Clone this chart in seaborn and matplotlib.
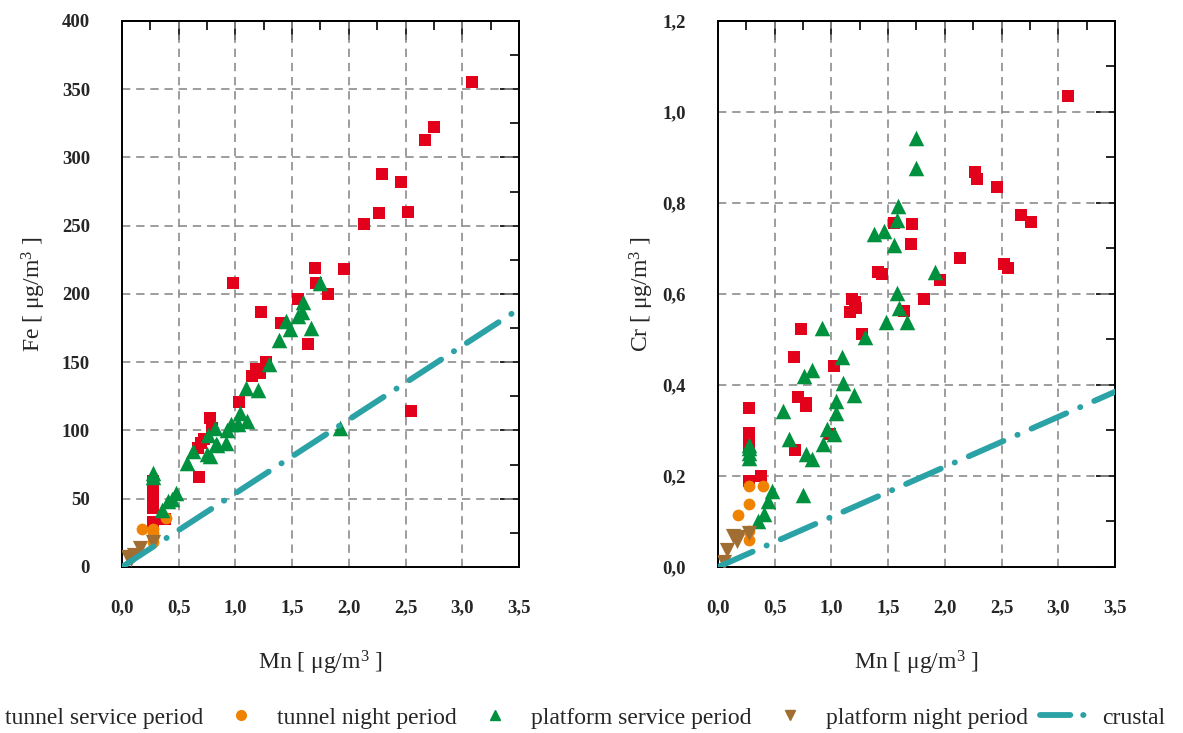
import numpy as np
import pandas as pd
import matplotlib
matplotlib.use("Agg")
import matplotlib.pyplot as plt
import seaborn as sns
from matplotlib.ticker import MultipleLocator, FuncFormatter
from matplotlib.lines import Line2D

# ---------------- data ----------------
# Left panel: Fe vs Mn
mn_fe_tunnel_service = [3.09, 2.75, 2.67, 2.29, 2.46, 2.27, 2.52, 2.13, 1.70, 1.96, 0.98, 1.71, 1.82,
                        1.55, 1.23, 1.40, 1.64, 1.27, 1.18, 1.22, 1.15, 1.03, 0.78, 0.79, 0.72, 0.70,
                        0.67, 2.55, 0.68, 0.27, 0.27, 0.27, 0.27, 0.27, 0.27, 0.27, 0.27, 0.38]
fe_tunnel_service = [355, 322, 313, 288, 282, 259, 260, 251, 219, 218, 208, 208, 200,
                     196, 187, 179, 163, 150, 145, 142, 140, 121, 109, 102, 94, 91,
                     87, 114, 66, 63, 60, 56, 53, 50, 46, 43, 33, 35]
mn_fe_tunnel_night = [0.18, 0.27, 0.27, 0.27, 0.39, 0.27]
fe_tunnel_night = [28, 28, 22, 18, 36, 25]
mn_fe_platform_service = [0.27, 0.27, 0.35, 0.41, 0.44, 0.48, 0.57, 0.63, 0.75, 0.78, 0.83, 0.84,
                          0.92, 0.76, 0.82, 0.93, 0.96, 1.04, 1.02, 1.10, 1.09, 1.20, 1.30, 1.38,
                          1.48, 1.45, 1.55, 1.59, 1.60, 1.67, 1.75, 1.92]
fe_platform_service = [69, 66, 42, 48, 50, 54, 76, 85, 83, 81, 90, 89,
                       91, 97, 102, 100, 105, 113, 105, 107, 131, 130, 149, 166,
                       174, 180, 184, 187, 194, 175, 208, 102]
mn_fe_platform_night = [0.05, 0.08, 0.11, 0.16, 0.27]
fe_platform_night = [7, 6, 9, 14, 18]

# Right panel: Cr vs Mn
mn_cr_tunnel_service = [3.09, 2.27, 2.28, 2.46, 2.67, 2.76, 2.13, 2.52, 2.56, 1.96, 1.70, 1.71,
                        1.55, 1.82, 1.41, 1.45, 1.18, 1.21, 1.22, 1.16, 1.64, 0.73, 1.27, 0.67,
                        1.02, 0.71, 0.78, 0.78, 0.99, 0.68, 0.27, 0.27, 0.27, 0.27, 0.27, 0.38]
cr_tunnel_service = [1.034, 0.867, 0.852, 0.835, 0.773, 0.758, 0.679, 0.666, 0.657, 0.630, 0.709, 0.753,
                     0.755, 0.589, 0.648, 0.643, 0.589, 0.582, 0.569, 0.560, 0.562, 0.523, 0.512, 0.462,
                     0.442, 0.374, 0.360, 0.353, 0.293, 0.258, 0.350, 0.295, 0.288, 0.266, 0.190, 0.200]
mn_cr_tunnel_night = [0.27, 0.40, 0.27, 0.18, 0.27, 0.27]
cr_tunnel_night = [0.177, 0.177, 0.139, 0.115, 0.078, 0.060]
mn_cr_platform_service = [1.75, 1.75, 1.59, 1.58, 1.38, 1.46, 1.55, 1.91, 1.58, 1.60, 1.48, 1.67,
                          0.92, 1.30, 1.09, 0.83, 0.76, 1.10, 1.20, 1.04, 1.04, 0.57, 0.96, 1.02,
                          0.63, 0.93, 0.78, 0.83, 0.27, 0.27, 0.27, 0.27, 0.75, 0.48, 0.44, 0.41, 0.35]
cr_platform_service = [0.942, 0.876, 0.793, 0.762, 0.731, 0.738, 0.707, 0.648, 0.602, 0.569, 0.538, 0.538,
                       0.525, 0.505, 0.462, 0.433, 0.420, 0.405, 0.378, 0.365, 0.339, 0.343, 0.303, 0.293,
                       0.282, 0.270, 0.249, 0.238, 0.268, 0.262, 0.250, 0.240, 0.159, 0.166, 0.146, 0.117, 0.101]
mn_cr_platform_night = [0.05, 0.08, 0.13, 0.17, 0.18, 0.27]
cr_platform_night = [0.010, 0.038, 0.067, 0.056, 0.066, 0.075]

# crustal ratios (element / Mn)
crustal_fe_mn = 54.0
crustal_cr_mn = 0.11
crustal_mn_range = [0.0, 3.6]

group_names = ["tunnel service period", "tunnel night period",
               "platform service period", "platform night period"]

# ---------------- style ----------------
colors = {"tunnel service period": "#E3001B", "tunnel night period": "#EF8200",
          "platform service period": "#00913E", "platform night period": "#A06E32"}
markers = {"tunnel service period": "s", "tunnel night period": "o",
           "platform service period": "^", "platform night period": "v"}
sizes = {"tunnel service period": 68, "tunnel night period": 72,
         "platform service period": 125, "platform night period": 120}
teal = "#2BA2A6"
crustal_ls = (0, (6.5, 2.6, 0.05, 2.6))
crustal_ls_legend = (0, (5.2, 2.2, 0.05, 2.2))

sns.set_style("white")
plt.rcParams["font.family"] = ["Liberation Serif", "DejaVu Serif"]
plt.rcParams["mathtext.fontset"] = "custom"
plt.rcParams["mathtext.rm"] = "Liberation Serif"
plt.rcParams["mathtext.it"] = "Liberation Serif:italic"
plt.rcParams["mathtext.bf"] = "Liberation Serif:bold"

fig = plt.figure(figsize=(11.83, 7.33), dpi=100)
axL = fig.add_axes([0.1031, 0.2265, 0.3356, 0.7449])
axR = fig.add_axes([0.6069, 0.2265, 0.3356, 0.7449])


def make_df(xs, ys):
    frames = []
    for name, x, y in zip(group_names, xs, ys):
        frames.append(pd.DataFrame({"Mn": x, "val": y, "group": name}))
    return pd.concat(frames, ignore_index=True)


dfL = make_df([mn_fe_tunnel_service, mn_fe_tunnel_night, mn_fe_platform_service, mn_fe_platform_night],
              [fe_tunnel_service, fe_tunnel_night, fe_platform_service, fe_platform_night])
dfR = make_df([mn_cr_tunnel_service, mn_cr_tunnel_night, mn_cr_platform_service, mn_cr_platform_night],
              [cr_tunnel_service, cr_tunnel_night, cr_platform_service, cr_platform_night])


def draw(ax, df, ratio, ymax, ymaj, ymin, yfmt, ylabel, ylabelpad):
    for name in group_names:
        sub = df[df["group"] == name]
        sns.scatterplot(data=sub, x="Mn", y="val", ax=ax, color=colors[name],
                        marker=markers[name], s=sizes[name], linewidth=0, legend=False, zorder=3)
    mn_line = np.array(crustal_mn_range)
    ax.plot(mn_line, ratio * mn_line, color=teal, lw=4.2,
            linestyle=crustal_ls, dash_capstyle="round", zorder=4)
    ax.set_xlim(0, 3.5)
    ax.set_ylim(0, ymax)
    ax.xaxis.set_major_locator(MultipleLocator(0.5))
    ax.xaxis.set_minor_locator(MultipleLocator(0.25))
    ax.yaxis.set_major_locator(MultipleLocator(ymaj))
    ax.yaxis.set_minor_locator(MultipleLocator(ymin))
    ax.xaxis.set_major_formatter(FuncFormatter(lambda v, p: f"{v:.1f}".replace(".", ",")))
    ax.yaxis.set_major_formatter(FuncFormatter(yfmt))
    ax.set_axisbelow(True)
    ax.grid(which="major", color="#8C8C8C", lw=1.2, linestyle=(0, (5, 3.5)))
    ax.tick_params(which="both", direction="out", top=False, right=False,
                   width=1.4, color="black", labelsize=13.5)
    ax.tick_params(which="major", length=14, pad=9)
    ax.tick_params(which="minor", length=6.5)
    for lab in ax.get_xticklabels() + ax.get_yticklabels():
        lab.set_fontweight("bold")
    for sp in ax.spines.values():
        sp.set_linewidth(1.4)
        sp.set_color("black")
    # mirrored inward ticks on top and right
    secx = ax.secondary_xaxis("top")
    secx.xaxis.set_major_locator(MultipleLocator(0.5))
    secx.xaxis.set_minor_locator(MultipleLocator(0.25))
    secx.tick_params(which="both", direction="in", labeltop=False, width=1.4)
    secx.tick_params(which="major", length=14)
    secx.tick_params(which="minor", length=6.5)
    secx.spines["top"].set_linewidth(1.4)
    secy = ax.secondary_yaxis("right")
    secy.yaxis.set_major_locator(MultipleLocator(ymaj))
    secy.yaxis.set_minor_locator(MultipleLocator(ymin))
    secy.tick_params(which="both", direction="in", labelright=False, width=1.4)
    secy.tick_params(which="major", length=14)
    secy.tick_params(which="minor", length=6.5)
    secy.spines["right"].set_linewidth(1.4)
    ax.set_xlabel("Mn [ μg/m$^{3}$ ]", fontsize=17, labelpad=24)
    ax.set_ylabel(ylabel, fontsize=17, labelpad=ylabelpad)


draw(axL, dfL, crustal_fe_mn, 400, 50, 25, lambda v, p: f"{v:.0f}", "Fe [ μg/m$^{3}$ ]", 10)
draw(axR, dfR, crustal_cr_mn, 1.2, 0.2, 0.1, lambda v, p: f"{v:.1f}".replace(".", ","),
     "Cr [ μg/m$^{3}$ ]", 5)

handles = [Line2D([], [], ls="none", marker=markers[n], color=colors[n], markersize=7)
           for n in group_names]
handles.append(Line2D([], [], color=teal, lw=4.2, linestyle=crustal_ls_legend, dash_capstyle="round"))
labels = group_names + ["crustal"]
fig.legend(handles, labels, loc="center left", bbox_to_anchor=(-0.049, 0.0205), ncol=5,
           frameon=False, fontsize=17, handlelength=2.25, handletextpad=0.4,
           columnspacing=0.5, borderpad=0, borderaxespad=0)

fig.savefig("out.png", dpi=100)
